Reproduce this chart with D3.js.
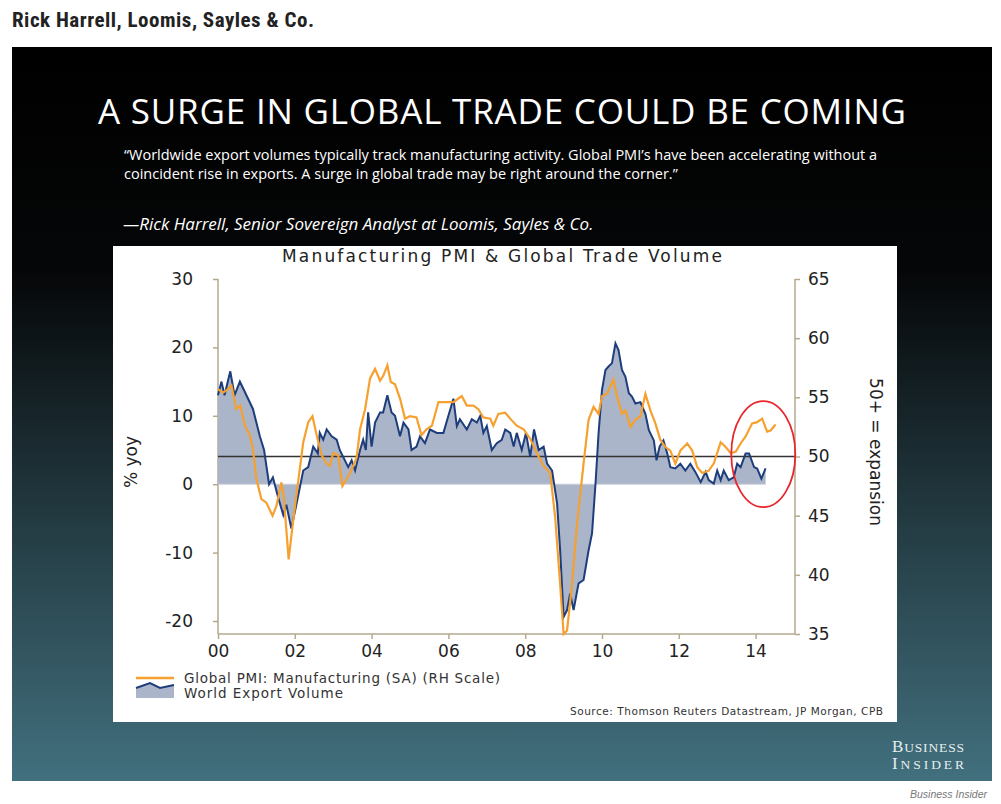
<!DOCTYPE html>
<html><head><meta charset="utf-8">
<script src="https://cdn.jsdelivr.net/npm/d3@7"></script>
<style>body{margin:0;background:#fff;}</style>
</head><body>
<script>
// World export volume, % yoy (left scale): [year offset from 2000, value]
const exportYears = [0,0.09,0.17,0.32,0.43,0.57,0.74,0.91,1.09,1.2,1.33,1.43,1.57,1.7,1.78,1.91,2.04,2.22,2.35,2.48,2.6,2.65,2.74,2.83,2.96,3.09,3.17,3.26,3.39,3.48,3.57,3.7,3.78,3.85,3.91,4.0,4.09,4.22,4.3,4.41,4.52,4.61,4.74,4.83,4.96,5.04,5.17,5.26,5.39,5.52,5.7,5.87,6.0,6.13,6.22,6.3,6.48,6.61,6.74,6.83,6.91,7.0,7.13,7.26,7.39,7.48,7.61,7.7,7.78,7.91,8.02,8.13,8.23,8.35,8.48,8.57,8.7,8.83,8.91,9.0,9.09,9.17,9.26,9.39,9.52,9.65,9.74,9.83,9.91,10.0,10.09,10.17,10.26,10.35,10.43,10.52,10.61,10.7,10.78,10.87,11.0,11.13,11.22,11.35,11.42,11.5,11.6,11.7,11.78,11.91,12.04,12.17,12.3,12.43,12.57,12.7,12.78,12.91,13.0,13.09,13.17,13.3,13.43,13.52,13.61,13.74,13.83,13.96,14.04,14.15,14.26];
const exportValues = [13,15,13,16.5,13,15,13,11,7,5,0,1,-2,-4.5,-3,-6.5,-3,2,2.5,5.5,4.5,7.5,6.5,8,7,6.5,5,4,2.5,3.5,2,5,6.5,5,10.5,5.5,9,10.5,10.5,13,10.5,10,7,9,8,5,5.5,7,6,8,7.5,7.5,10,12.5,8.5,9.5,8,9.5,9,10,7.5,8.5,5,6,6.5,8,7.5,5.5,7.5,5,7.5,4,8,5,5.5,3,2,-2.8,-9.7,-19.4,-18.4,-16,-18.4,-14.5,-14,-9.7,-7.2,0,7.4,13.8,16.7,17.2,17.7,20.6,19.6,16.7,15.7,13.3,12.8,11.8,12,10.3,7.9,6.4,3.5,5.5,6.4,4.5,2.5,2.3,3,2,3,1.8,0.3,1.8,0.6,0.1,2,0.6,2,0.6,1,3,2.5,4.5,4.5,2.5,2.3,0.8,2.3];
// Global PMI manufacturing (right scale)
const pmiYears = [0,0.13,0.26,0.35,0.48,0.58,0.7,0.83,0.91,1.0,1.13,1.26,1.42,1.52,1.65,1.71,1.84,1.94,2.04,2.22,2.35,2.46,2.57,2.7,2.83,2.91,3.0,3.13,3.24,3.35,3.48,3.61,3.7,3.83,3.96,4.09,4.22,4.3,4.41,4.5,4.61,4.74,4.87,5.0,5.17,5.3,5.43,5.57,5.74,5.96,6.13,6.26,6.35,6.48,6.65,6.78,6.91,7.09,7.17,7.3,7.48,7.61,7.78,7.96,8.13,8.3,8.48,8.65,8.78,8.91,9.0,9.09,9.22,9.35,9.52,9.65,9.78,9.91,10.0,10.13,10.3,10.39,10.52,10.61,10.74,10.87,11.0,11.13,11.26,11.39,11.52,11.65,11.78,11.91,12.04,12.22,12.35,12.48,12.61,12.78,12.91,13.09,13.22,13.35,13.48,13.61,13.74,13.91,14.04,14.17,14.3,14.39,14.52];
const pmiValues = [55.7,55.4,55.7,56,54,54.3,52.6,51.8,50.6,48.1,46.4,46.1,45,45.8,47.8,46.7,41.3,44.1,46.7,51.2,52.9,53.4,51.8,50.1,49.4,49.2,50.3,50.1,47.5,48.1,48.9,49.9,52.3,54,56.6,57.4,56.4,56.8,57.7,56.3,56.1,54.9,53.2,53.4,53.3,51.8,52.3,52.6,54.6,54.6,54.6,54.9,55.1,54.3,54.3,54,53.3,53.2,52.6,53.6,53.7,53.2,52.6,52.3,51.5,50.3,49.2,48.6,44.9,39.2,35,35.3,39.2,44.3,49.4,53.1,54.2,53.6,55.1,55.3,56.5,55.1,53.6,53.9,52.5,53.1,53.4,55.3,53.9,52.8,51.4,50.8,50.5,49.4,50.5,51.1,50.5,49.1,48.6,48.8,49.4,51.2,50.8,50.3,50.4,51.1,51.7,52.8,52.9,53.2,52.1,52.2,52.7];
const xTicks = [0,2,4,6,8,10,12,14];
const leftTicks = [-20,-10,0,10,20,30];
const rightTicks = [35,40,45,50,55,60,65];

const W = 1001, H = 804;
const svg = d3.select("body").append("svg").attr("width", W).attr("height", H);
const defs = svg.append("defs");
const grad = defs.append("linearGradient").attr("id","bg").attr("x1",0).attr("x2",0).attr("y1",0).attr("y2",1);
grad.append("stop").attr("offset","0%").attr("stop-color","#000");
grad.append("stop").attr("offset","30%").attr("stop-color","#050607");
grad.append("stop").attr("offset","100%").attr("stop-color","#42707e");

svg.append("text").attr("x", 12).attr("y", 27).text("Rick Harrell, Loomis, Sayles & Co.")
  .attr("font-family","Roboto Condensed, Roboto, sans-serif").attr("font-weight","bold")
  .attr("font-size", 21).attr("fill","#222").attr("textLength", 302);

svg.append("rect").attr("x",12).attr("y",47).attr("width",980).attr("height",734).attr("fill","url(#bg)");

svg.append("text").attr("x", 502).attr("y", 124).attr("text-anchor","middle")
  .text("A SURGE IN GLOBAL TRADE COULD BE COMING")
  .attr("font-family","Open Sans, sans-serif").attr("font-size", 35).attr("fill","#fff")
  .attr("textLength", 808);
const quote = ["\u201cWorldwide export volumes typically track manufacturing activity. Global PMI\u2019s have been accelerating without a",
  "coincident rise in exports. A surge in global trade may be right around the corner.\u201d"];
quote.forEach((q,i) => svg.append("text").attr("x",124).attr("y",160 + i*19).text(q)
  .attr("font-family","Open Sans, sans-serif").attr("font-size",14.5).attr("fill","#fff"));
svg.append("text").attr("x",123).attr("y",230)
  .text("\u2014Rick Harrell, Senior Sovereign Analyst at Loomis, Sayles & Co.")
  .attr("font-family","Open Sans, sans-serif").attr("font-style","italic").attr("font-size",17).attr("fill","#fff");

// chart panel
svg.append("rect").attr("x",113).attr("y",246).attr("width",784).attr("height",476).attr("fill","#fff");
const font = "DejaVu Sans, Verdana, sans-serif";
svg.append("text").attr("x",502).attr("y",262).attr("text-anchor","middle")
  .text("Manufacturing PMI & Global Trade Volume").attr("font-family",font).attr("font-size",17).attr("fill","#222")
  .attr("textLength",440);

const x = d3.scaleLinear().domain([0,15]).range([218,794]);
const yR = d3.scaleLinear().domain([35,65]).range([634,279]);
const yBase = d3.scaleLinear().domain([-20,30]).range([621,279]);
const yLeft = v => yBase(v);

const axisCol = "#b5a88f";
const gL = svg.append("g").attr("transform","translate(218,0)")
  .call(d3.axisLeft(yBase).tickValues(leftTicks).tickSize(5).tickPadding(20).tickFormat(d => String(d)));
const gR = svg.append("g").attr("transform","translate(795,0)")
  .call(d3.axisRight(yR).tickValues(rightTicks).tickSize(5).tickPadding(8));
const gX = svg.append("g").attr("transform","translate(0,634)")
  .call(d3.axisBottom(x).tickValues(xTicks).tickSize(5).tickPadding(6).tickFormat(d => d3.format("02d")(d)));
[gL,gR,gX].forEach(g => {
  g.selectAll("path,line").attr("stroke",axisCol).attr("stroke-width",1.5);
  g.selectAll("text").attr("font-family",font).attr("font-size",17).attr("fill","#222");
});
gL.select(".domain").attr("d","M0,279V634");
gR.select(".domain").attr("d","M0,279V634");
gX.select(".domain").attr("d","M218,0H795");

const exp = exportYears.map((t,i) => [t, exportValues[i]]);
const pmi = pmiYears.map((t,i) => [t, pmiValues[i]]);

svg.append("path").datum(exp).attr("fill","#aab5c9")
  .attr("d", d3.area().x(d => x(d[0])).y0(yLeft(0)).y1(d => yLeft(d[1])));
svg.append("line").attr("x1",x(0)).attr("x2",x(14.26)).attr("y1",yLeft(0)).attr("y2",yLeft(0))
  .attr("stroke","#c9cfdb").attr("stroke-width",1);
svg.append("line").attr("x1",218).attr("x2",795).attr("y1",yR(50)).attr("y2",yR(50))
  .attr("stroke","#333").attr("stroke-width",1.3);
svg.append("path").datum(exp).attr("fill","none").attr("stroke","#1e3d7b").attr("stroke-width",2)
  .attr("d", d3.line().x(d => x(d[0])).y(d => yLeft(d[1])));
svg.append("path").datum(pmi).attr("fill","none").attr("stroke","#f6a02f").attr("stroke-width",2.2)
  .attr("d", d3.line().x(d => x(d[0])).y(d => yR(d[1])));

// highlight ellipse
svg.append("ellipse").attr("cx",x(14.2)).attr("cy",yR(50.2)).attr("rx",32).attr("ry",53)
  .attr("fill","none").attr("stroke","#e8262b").attr("stroke-width",1.8);

svg.append("text").attr("transform","translate(137,462) rotate(-90)").attr("text-anchor","middle")
  .text("% yoy").attr("font-family",font).attr("font-size",17).attr("fill","#222");
svg.append("text").attr("transform","translate(870,452) rotate(90)").attr("text-anchor","middle")
  .text("50+ = expansion").attr("font-family",font).attr("font-size",17).attr("fill","#222");

// legend
svg.append("line").attr("x1",136).attr("x2",174).attr("y1",678).attr("y2",678).attr("stroke","#f6a02f").attr("stroke-width",2.5);
svg.append("path").attr("d","M136,688 L150,683 L160,688 L174,685 L174,698 L136,698 Z").attr("fill","#aab5c9");
svg.append("path").attr("d","M136,688 L150,683 L160,688 L174,685").attr("fill","none").attr("stroke","#1e3d7b").attr("stroke-width",2);
svg.append("text").attr("x",184).attr("y",683).text("Global PMI: Manufacturing (SA) (RH Scale)")
  .attr("font-family",font).attr("font-size",13.5).attr("fill","#333").attr("textLength",316);
svg.append("text").attr("x",184).attr("y",698).text("World Export Volume")
  .attr("font-family",font).attr("font-size",13.5).attr("fill","#333").attr("textLength",159);
svg.append("text").attr("x",883).attr("y",715).attr("text-anchor","end")
  .text("Source: Thomson Reuters Datastream, JP Morgan, CPB")
  .attr("font-family",font).attr("font-size",10.5).attr("fill","#333").attr("textLength",313);

// logo
[["B","USINESS",752],["I","NSIDER",769]].forEach(([a,b,yy]) => {
  const t = svg.append("text").attr("x",892).attr("y",yy).attr("font-family","Liberation Serif, serif").attr("fill","#e8eef0");
  t.append("tspan").attr("font-size",17).text(a);
  t.append("tspan").attr("font-size",13.5).text(b);
  t.attr("textLength",72);
});
svg.append("text").attr("x",987).attr("y",798).attr("text-anchor","end").text("Business Insider")
  .attr("font-family","Liberation Sans, Arial, sans-serif").attr("font-style","italic").attr("font-size",10.5).attr("fill","#777");
</script>
</body></html>
